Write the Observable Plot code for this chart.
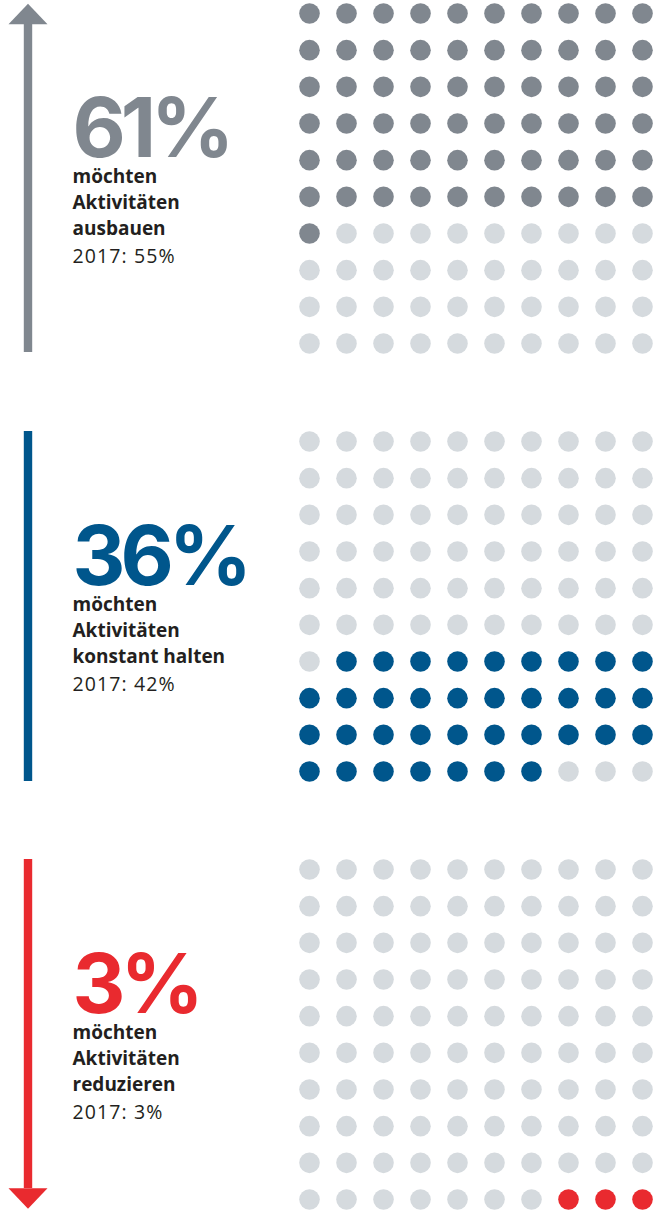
<!DOCTYPE html>
<html>
<head>
<meta charset="utf-8">
<script src="https://cdn.jsdelivr.net/npm/d3@7"></script>
<script src="https://cdn.jsdelivr.net/npm/@observablehq/plot@0.6"></script>
<style>
  body { margin: 0; background: #fff; }
  g[aria-description="big-number"] text { letter-spacing: -5px; }
  g[aria-description="previous"] text { letter-spacing: 1.1px; }
</style>
</head>
<body>
<div id="chart"></div>
<script>
// ---- data ----
const panels = ["ausbauen", "konstant halten", "reduzieren"];
const shares = [61, 36, 3];            // % in current survey
const shares2017 = [55, 42, 3];        // % in 2017
const labelLines = [
  ["möchten", "Aktivitäten", "ausbauen"],
  ["möchten", "Aktivitäten", "konstant halten"],
  ["möchten", "Aktivitäten", "reduzieren"]
];
const directions = ["up", "none", "down"];
const colors = ["#80878f", "#00568c", "#e92a2f"];
const emptyColor = "#d5dade";
const gridSize = 10;

// ---- derived tables ----
const summary = panels.map((p, i) => ({
  panel: p, share: shares[i], prev: shares2017[i], lines: labelLines[i], dir: directions[i]
}));

const cells = [];
let start = 0;
panels.forEach((p, k) => {
  const end = start + shares[k];
  for (let i = 0; i < gridSize * gridSize; i++) {
    cells.push({
      panel: p,
      row: Math.floor(i / gridSize),
      col: i % gridSize,
      key: (i >= start && i < end) ? p : "leer"
    });
  }
  start = end;
});

// ---- arrow heads (filled triangles) ----
const headUp = {
  draw(ctx, size) {
    const w = Math.sqrt(size / Math.PI), h = w * 1.06;
    ctx.moveTo(0, -h / 2); ctx.lineTo(w, h / 2); ctx.lineTo(-w, h / 2); ctx.closePath();
  }
};
const headDown = {
  draw(ctx, size) {
    const w = Math.sqrt(size / Math.PI), h = w * 1.06;
    ctx.moveTo(0, h / 2); ctx.lineTo(w, -h / 2); ctx.lineTo(-w, -h / 2); ctx.closePath();
  }
};

const arrowDx = -281.5;   // arrow column, left of the grid
const textDx = -237;      // text column, left of the grid
const first = () => 0, last = () => gridSize - 1, col0 = () => 0;

const chart = Plot.plot({
  width: 653,
  height: 1210,
  marginLeft: 309,
  marginRight: 11,
  marginTop: 13,
  marginBottom: 11,
  x: {domain: [0, gridSize - 1], axis: null},
  y: {domain: [0, gridSize - 1], reverse: true, axis: null},
  fy: {domain: panels, paddingInner: 0.229, paddingOuter: 0, round: false, axis: null},
  color: {domain: [...panels, "leer"], range: [...colors, emptyColor]},
  style: {fontFamily: "'Open Sans', sans-serif", background: "#fff", overflow: "visible"},
  marks: [
    // waffle dots
    Plot.dot(cells, {x: "col", y: "row", fy: "panel", r: 10.3, fill: "key", stroke: "none"}),

    // arrow shafts / bar
    Plot.ruleX(summary.filter(d => d.dir === "up"), {
      fy: "panel", x: col0, y1: first, y2: last, stroke: "panel", strokeWidth: 8.4,
      dx: arrowDx, insetTop: 11, insetBottom: -9
    }),
    Plot.ruleX(summary.filter(d => d.dir === "none"), {
      fy: "panel", x: col0, y1: first, y2: last, stroke: "panel", strokeWidth: 8.4,
      dx: arrowDx, insetTop: -10, insetBottom: -10
    }),
    Plot.ruleX(summary.filter(d => d.dir === "down"), {
      fy: "panel", x: col0, y1: first, y2: last, stroke: "panel", strokeWidth: 8.4,
      dx: arrowDx, insetTop: -10, insetBottom: 11
    }),
    // arrow heads
    Plot.dot(summary.filter(d => d.dir === "up"), {
      fy: "panel", x: col0, y: first, symbol: headUp, r: 19.5, fill: "panel", stroke: "none",
      dx: arrowDx, dy: 0.5
    }),
    Plot.dot(summary.filter(d => d.dir === "down"), {
      fy: "panel", x: col0, y: last, symbol: headDown, r: 19.5, fill: "panel", stroke: "none",
      dx: arrowDx, dy: -1
    }),

    // big percentage
    Plot.text(summary, {
      fy: "panel", frameAnchor: "top-left", text: d => d.share + "%", fill: "panel",
      fontFamily: "Inter", fontSize: 82, fontWeight: 700, textAnchor: "start",
      lineAnchor: "bottom", dx: textDx, dy: 143, ariaDescription: "big-number"
    }),
    // bold description
    Plot.text(summary, {
      fy: "panel", frameAnchor: "top-left", text: d => d.lines.join("\n"), fill: "#231f20",
      fontSize: 19, fontWeight: 700, textAnchor: "start", lineAnchor: "bottom",
      lineHeight: 26 / 19, dx: textDx, dy: 221.5
    }),
    // 2017 comparison
    Plot.text(summary, {
      fy: "panel", frameAnchor: "top-left", text: d => "2017: " + d.prev + "%", fill: "#231f20",
      fontSize: 19.5, fontWeight: 400, textAnchor: "start", lineAnchor: "bottom",
      dx: textDx, dy: 249, ariaDescription: "previous"
    })
  ]
});

document.getElementById("chart").appendChild(chart);
</script>
</body>
</html>
